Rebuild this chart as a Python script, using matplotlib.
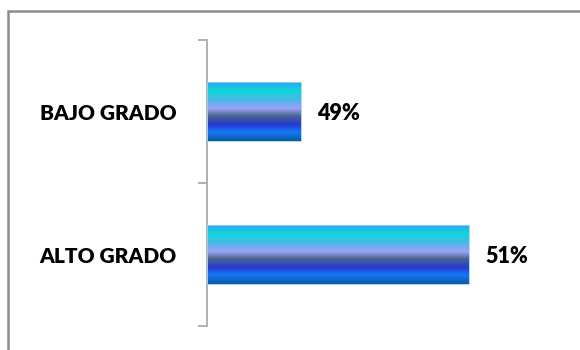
import matplotlib
matplotlib.use("Agg")
import matplotlib.pyplot as plt
import numpy as np
from matplotlib.colors import LinearSegmentedColormap
from matplotlib.patches import Rectangle

# Data
categories = ["ALTO GRADO", "BAJO GRADO"]
values = [51, 49]
value_labels = ["51%", "49%"]

W, H = 580, 350
fig = plt.figure(figsize=(W / 100, H / 100), dpi=100)
fig.patch.set_facecolor("white")

ax_left, ax_right, ax_top, ax_bottom = 207, 570, 40, 326
ax = fig.add_axes([ax_left / W, (H - ax_bottom) / H,
                   (ax_right - ax_left) / W, (ax_bottom - ax_top) / H])

px_per_unit = 84.0
xmin = 49 - 94 / px_per_unit
xmax = xmin + (ax_right - ax_left) / px_per_unit

bar_h = 0.41
ypos = np.arange(len(categories))
bars = ax.barh(ypos, [v - xmin for v in values], left=xmin, height=bar_h,
               facecolor="none", edgecolor="#9fd0f0", linewidth=0.6, zorder=3)

stops = [(0.0, "#2aa4f8"), (0.14, "#10d8d8"), (0.30, "#48b8e8"),
         (0.45, "#a0a0f8"), (0.57, "#486890"), (0.72, "#2838d0"),
         (0.85, "#1478f8"), (1.0, "#0c5ca0")]
cmap = LinearSegmentedColormap.from_list("grad", stops)
grad = cmap(np.linspace(0, 1, 120))[:, None, :3]

for b in bars:
    x0, y0, w, h = b.get_x(), b.get_y(), b.get_width(), b.get_height()
    ax.imshow(grad, extent=(x0, x0 + w, y0, y0 + h), origin="upper",
              aspect="auto", interpolation="bilinear", zorder=2)

for y, v, lab in zip(ypos, values, value_labels):
    ax.annotate(lab, (v, y), xytext=(11.5, -1.5), textcoords="offset points",
                va="center", ha="left", fontsize=15.5, fontweight="heavy",
                family="Lato", color="black")

# category labels
for y, cat in zip(ypos, categories):
    ax.annotate(cat, (0, y), xycoords=("axes fraction", "data"),
                xytext=(-22, -1.5), textcoords="offset points",
                va="center", ha="right", fontsize=15, fontweight="heavy",
                family="Lato", color="black", annotation_clip=False)

ax.set_xlim(xmin, xmax)
ax.set_ylim(-0.5, len(categories) - 0.5)

for s in ["top", "right", "bottom"]:
    ax.spines[s].set_visible(False)
ax.spines["left"].set_color("#b0b0b0")
ax.spines["left"].set_linewidth(1.4)
ax.set_xticks([])
ax.set_yticks(np.arange(-0.5, len(categories), 1.0))
ax.set_yticklabels([])
ax.tick_params(axis="y", which="major", direction="out", length=6.5,
               color="#b0b0b0", width=1.4)
ax.set_facecolor("none")

fig.add_artist(Rectangle((8 / W, -0.1), 1.2, (H - 11) / H + 0.1,
                         transform=fig.transFigure, fill=False,
                         edgecolor="#8c8c8c", linewidth=1.8))

fig.savefig("out.png", dpi=100, facecolor="white")
